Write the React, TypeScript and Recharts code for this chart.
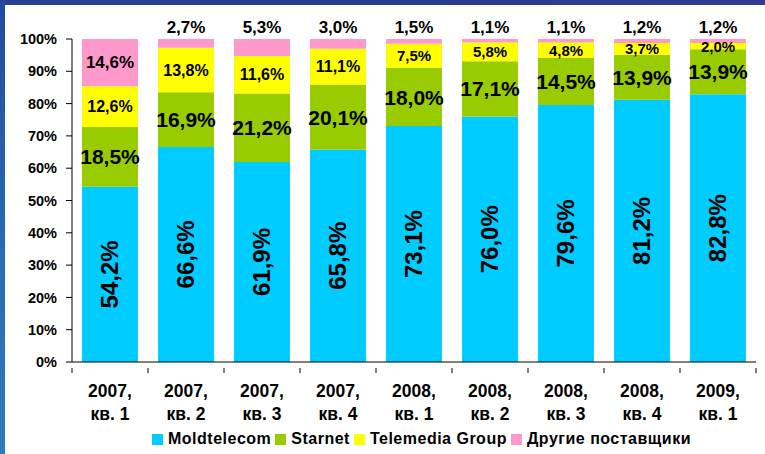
import React from "react";
import { BarChart, Bar, XAxis, YAxis, LabelList } from "recharts";

const years = ["2007", "2007", "2007", "2007", "2008", "2008", "2008", "2008", "2009"];
const quarters = ["1", "2", "3", "4", "1", "2", "3", "4", "1"];
const moldtelecom = [54.2, 66.6, 61.9, 65.8, 73.1, 76.0, 79.6, 81.2, 82.8];
const starnet = [18.5, 16.9, 21.2, 20.1, 18.0, 17.1, 14.5, 13.9, 13.9];
const telemedia = [12.6, 13.8, 11.6, 11.1, 7.5, 5.8, 4.8, 3.7, 2.0];
const others = [14.6, 2.7, 5.3, 3.0, 1.5, 1.1, 1.1, 1.2, 1.2];
const yTicks = [0, 0.1, 0.2, 0.3, 0.4, 0.5, 0.6, 0.7, 0.8, 0.9, 1];

const seriesNames = ["Moldtelecom", "Starnet", "Telemedia Group", "Другие поставщики"];
const colors = ["#00CCFF", "#99CC00", "#FFFF00", "#FF99CC"];

const data = years.map((y, i) => ({
  cat: `${y}, кв. ${quarters[i]}`,
  m: moldtelecom[i],
  s: starnet[i],
  t: telemedia[i],
  o: others[i],
}));

const FONT = "'Liberation Sans', Arial, sans-serif";
const fmt = (v: number) => v.toFixed(1).replace(".", ",") + "%";

const MLabel = (p: any) => {
  const cx = p.x + p.width / 2;
  const cy = p.y + p.height / 2;
  return (
    <text x={cx} y={cy} transform={`rotate(-90 ${cx} ${cy})`} textAnchor="middle" dominantBaseline="central"
      fontFamily={FONT} fontWeight="bold" fontSize={24} fill="#000">
      {fmt(moldtelecom[p.index])}
    </text>
  );
};

const SLabel = (p: any) => (
  <text x={p.x + p.width / 2} y={p.y + p.height / 2} textAnchor="middle" dominantBaseline="central"
    fontFamily={FONT} fontWeight="bold" fontSize={21} fill="#000">
    {fmt(starnet[p.index])}
  </text>
);

const TLabel = (p: any) => (
  <text x={p.x + p.width / 2} y={p.y + p.height / 2} textAnchor="middle" dominantBaseline="central"
    fontFamily={FONT} fontWeight="bold" fontSize={p.index >= 4 ? 15 : 16} fill="#000">
    {fmt(telemedia[p.index])}
  </text>
);

const OLabel = (p: any) => {
  const inside = p.index === 0;
  return (
    <text x={p.x + p.width / 2} y={inside ? p.y + p.height / 2 : p.y - 12} textAnchor="middle" dominantBaseline="central"
      fontFamily={FONT} fontWeight="bold" fontSize={17} fill="#000">
      {fmt(others[p.index])}
    </text>
  );
};

const BAND = 76;

const XTick = (p: any) => {
  const { x, y, index, payload } = p;
  const parts = String(payload.value).split(" ");
  const line1 = parts[0];
  const line2 = parts.slice(1).join(" ");
  const axisY = y - 2;
  return (
    <g>
      <line x1={x - BAND / 2} x2={x - BAND / 2} y1={axisY} y2={axisY + 5} stroke="#000" strokeWidth={1} />
      {index === years.length - 1 && (
        <line x1={x + BAND / 2} x2={x + BAND / 2} y1={axisY} y2={axisY + 5} stroke="#000" strokeWidth={1} />
      )}
      <text x={x} y={axisY + 29} textAnchor="middle" fontFamily={FONT} fontWeight="bold" fontSize={17.5} fill="#000">
        {line1}
      </text>
      <text x={x} y={axisY + 52} textAnchor="middle" fontFamily={FONT} fontWeight="bold" fontSize={17.5} fill="#000">
        {line2}
      </text>
    </g>
  );
};

export default function App() {
  return (
    <div style={{ position: "absolute", left: 0, top: 0, width: 765, height: 454, background: "#fff", overflow: "hidden" }}>
      <div style={{ position: "absolute", left: 0, top: 0, width: 765, height: 5, background: "linear-gradient(90deg, #25418f, #2b3c8c 60%, #2e3d92)" }} />
      <div style={{ position: "absolute", left: 0, top: 0, width: 5, height: 454, background: "linear-gradient(180deg, #244aa0, #2a6db4 60%, #2e7bbd)" }} />
      <div style={{ position: "absolute", left: 0, top: 0 }}>
        <BarChart width={765} height={454} data={data} stackOffset="expand" barCategoryGap={10}
          margin={{ top: 39, right: 9, bottom: 32, left: 8 }}>
          <XAxis dataKey="cat" height={60} interval={0} tickLine={false} tick={<XTick />}
            axisLine={{ stroke: "#000", strokeWidth: 1 }} />
          <YAxis width={64} domain={[0, 1]} ticks={yTicks} interval={0} tickSize={6} tickMargin={9}
            tickFormatter={(v: number) => `${Math.round(v * 100)}%`}
            tick={{ fontFamily: FONT, fontWeight: "bold", fontSize: 14.5, fill: "#000" }}
            axisLine={{ stroke: "#000" }} tickLine={{ stroke: "#000" }} />
          <Bar dataKey="m" stackId="a" fill={colors[0]} isAnimationActive={false}>
            <LabelList content={<MLabel />} />
          </Bar>
          <Bar dataKey="s" stackId="a" fill={colors[1]} isAnimationActive={false}>
            <LabelList content={<SLabel />} />
          </Bar>
          <Bar dataKey="t" stackId="a" fill={colors[2]} isAnimationActive={false}>
            <LabelList content={<TLabel />} />
          </Bar>
          <Bar dataKey="o" stackId="a" fill={colors[3]} isAnimationActive={false}>
            <LabelList content={<OLabel />} />
          </Bar>
        </BarChart>
      </div>
      <div style={{ position: "absolute", left: 152, top: 430, display: "flex", alignItems: "center", fontFamily: FONT, fontWeight: "bold", fontSize: 16, letterSpacing: 0.5, color: "#000", whiteSpace: "nowrap" }}>
        {seriesNames.map((n, i) => (
          <span key={n} style={{ display: "flex", alignItems: "center", marginRight: 4 }}>
            <span style={{ display: "inline-block", width: 11, height: 11, background: colors[i], marginRight: 5 }} />
            {n}
          </span>
        ))}
      </div>
    </div>
  );
}
